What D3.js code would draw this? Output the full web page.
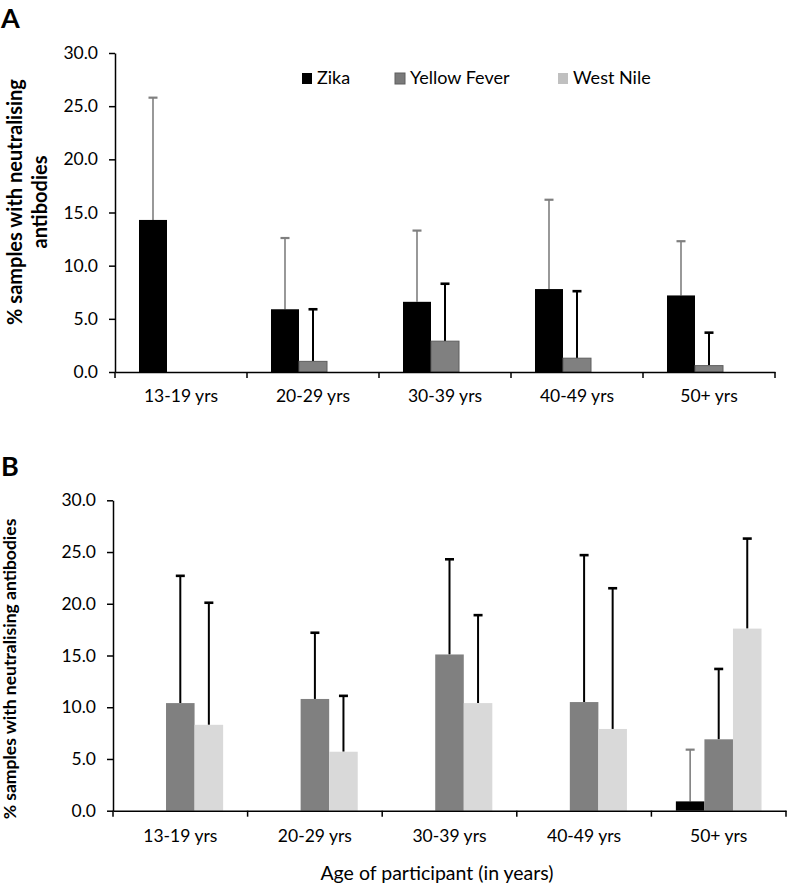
<!DOCTYPE html>
<html><head><meta charset="utf-8">
<script src="https://cdn.jsdelivr.net/npm/d3@7"></script>
<style>body{margin:0;background:#fff}svg{display:block}text{font-family:Lato,"Open Sans",sans-serif}</style>
</head><body><svg id="c" width="787" height="887"></svg>
<script>
const categories = ["13-19 yrs","20-29 yrs","30-39 yrs","40-49 yrs","50+ yrs"];
const series = ["Zika","Yellow Fever","West Nile"];
const yTicks = [0,5,10,15,20,25,30];
// Panel A
const zikaA = [14.3,5.9,6.6,7.8,7.2];
const zikaErrA = [25.8,12.6,13.3,16.2,12.3];
const yfA = [null,1.0,2.9,1.3,0.6];
const yfErrA = [null,5.9,8.3,7.6,3.7];
const wnA = [null,null,null,null,null];
const wnErrA = [null,null,null,null,null];
// Panel B
const zikaB = [null,null,null,null,0.9];
const zikaErrB = [null,null,null,null,5.9];
const yfB = [10.4,10.8,15.1,10.5,6.9];
const yfErrB = [22.7,17.2,24.3,24.7,13.7];
const wnB = [8.3,5.7,10.4,7.9,17.6];
const wnErrB = [20.1,11.1,18.9,21.5,26.3];

const fills = {"Zika":"#000000","Yellow Fever":"#808080","West Nile":"#d9d9d9"};
const legendFills = {"Zika":"#000000","Yellow Fever":"#7a7a7a","West Nile":"#c0c0c0"};
const errColor = {"Zika":"#7f7f7f","Yellow Fever":"#000","West Nile":"#000"};
const errWidth = {"Zika":1.6,"Yellow Fever":2,"West Nile":2};

const svg = d3.select("#c");

function panel(cfg){
  const g = svg.append("g");
  const x0 = d3.scaleBand().domain(categories).range([cfg.left,cfg.right]).padding(0);
  const x1 = d3.scaleBand().domain(series).range([0,x0.bandwidth()]).paddingInner(0).paddingOuter(0.857);
  const y = d3.scaleLinear().domain([0,30]).range([cfg.bottom,cfg.top]);
  const rows = [];
  categories.forEach((c,i)=>{
    series.forEach((s,j)=>{
      rows.push({c,s,v:cfg.vals[j][i],e:cfg.errs[j][i]});
    });
  });
  const eb = g.append("g");
  rows.filter(d=>d.e!=null && d.v!=null).forEach(d=>{
    const cx = x0(d.c)+x1(d.s)+x1.bandwidth()/2;
    eb.append("line").attr("x1",cx).attr("x2",cx).attr("y1",y(d.v)).attr("y2",y(d.e))
      .attr("stroke",errColor[d.s]).attr("stroke-width",errWidth[d.s]);
    eb.append("line").attr("x1",cx-4.5).attr("x2",cx+4.5).attr("y1",y(d.e)).attr("y2",y(d.e))
      .attr("stroke",errColor[d.s]).attr("stroke-width",errWidth[d.s]+0.6);
  });
  g.append("g").selectAll("rect").data(rows.filter(d=>d.v!=null)).join("rect")
    .attr("x",d=>x0(d.c)+x1(d.s)).attr("width",x1.bandwidth())
    .attr("y",d=>y(d.v)).attr("height",d=>y(0)-y(d.v))
    .attr("fill",d=>fills[d.s])
    .attr("stroke",d=>d.s==="Yellow Fever"&&cfg.yfStroke?"#5e5e5e":"none")
    .attr("stroke-width",1);
  const ya = g.append("g").attr("transform",`translate(${cfg.left},0)`)
    .call(d3.axisLeft(y).tickValues(yTicks).tickFormat(d3.format(".1f")).tickSize(6).tickSizeOuter(0));
  ya.select(".domain").attr("stroke","#000").attr("stroke-width",1.5);
  ya.selectAll(".tick line").attr("stroke","#000").attr("stroke-width",1.5);
  ya.selectAll(".tick text").attr("font-size",17.5).attr("fill","#000").attr("x",-17);
  const xa = g.append("g").attr("transform",`translate(0,${cfg.bottom})`)
    .call(d3.axisBottom(x0).tickSize(0).tickSizeOuter(0));
  xa.select(".domain").attr("stroke","#000").attr("stroke-width",1.5);
  xa.selectAll(".tick text").attr("font-size",17.5).attr("fill","#000").attr("dy",0).attr("y",cfg.xLabelDy);
  const bounds = categories.map(c=>x0(c)).concat([x0(categories[categories.length-1])+x0.bandwidth()]);
  g.append("g").selectAll("line").data(bounds).join("line")
    .attr("x1",d=>d).attr("x2",d=>d).attr("y1",cfg.bottom).attr("y2",cfg.bottom+6)
    .attr("stroke","#000").attr("stroke-width",1.5);
  g.append("text").attr("x",1).attr("y",cfg.letterY).attr("font-size",27).attr("font-weight",700)
    .attr("font-family","Liberation Sans, Arial, sans-serif").text(cfg.letter);
  const yt = g.append("text").attr("transform",`translate(${cfg.titleX},${cfg.titleY}) rotate(-90)`)
    .attr("text-anchor","middle").attr("font-size",cfg.titleSize).attr("font-weight",700);
  cfg.titleLines.forEach((t,i)=>{
    yt.append("tspan").attr("x",0).attr("dy",i===0?0:25).text(t);
  });
  return {x0,y};
}

panel({letter:"A",letterY:28,left:115,right:775,top:53,bottom:372,xLabelDy:30,
  vals:[zikaA,yfA,wnA],errs:[zikaErrA,yfErrA,wnErrA],yfStroke:true,titleSize:20,
  titleX:22,titleY:202,titleLines:["% samples with neutralising","antibodies"]});

panel({letter:"B",letterY:476,left:113,right:786,top:500.3,bottom:810.7,xLabelDy:31,
  vals:[zikaB,yfB,wnB],errs:[zikaErrB,yfErrB,wnErrB],yfStroke:false,titleSize:17.5,
  titleX:16,titleY:669,titleLines:["% samples with neutralising antibodies"]});

const legX = [302,395,558];
const leg = svg.append("g");
series.forEach((s,i)=>{
  leg.append("rect").attr("x",legX[i]).attr("y",73).attr("width",10).attr("height",11)
    .attr("fill",legendFills[s]).attr("stroke",s==="Yellow Fever"?"#5e5e5e":"none");
  leg.append("text").attr("x",legX[i]+15).attr("y",84).attr("font-size",18).attr("fill","#000").text(s);
});

svg.append("text").attr("x",437).attr("y",880).attr("text-anchor","middle").attr("font-size",19.5)
  .attr("fill","#000").text("Age of participant (in years)");
</script></body></html>
